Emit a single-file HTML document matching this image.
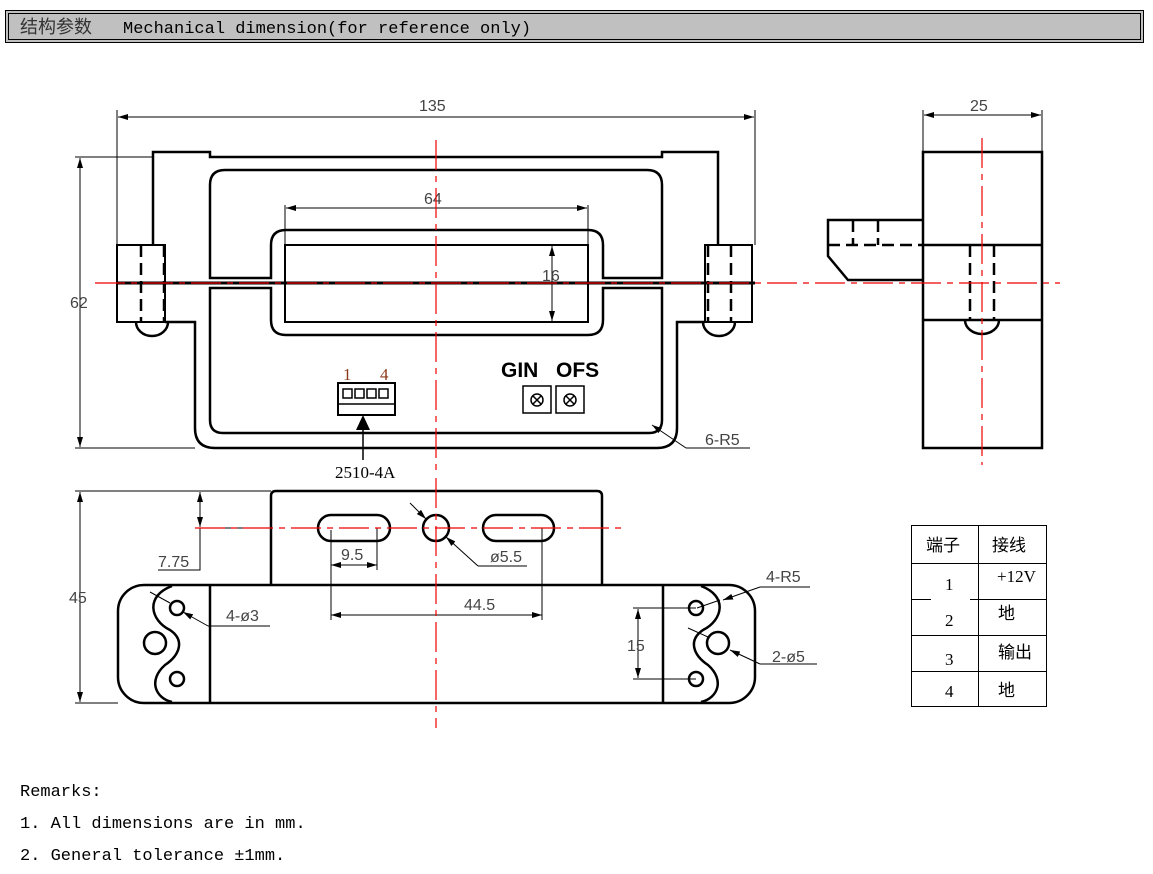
<!DOCTYPE html>
<html><head><meta charset="utf-8"><style>
html,body{margin:0;padding:0;background:#fff}
svg{display:block}
.t{font-family:"Liberation Sans",sans-serif;font-size:16px;fill:#444}
.m{font-family:"Liberation Mono","Noto Sans CJK SC",monospace;font-size:17px;fill:#000}
.s{font-family:"Liberation Serif","Noto Serif CJK SC",serif;font-size:17px;fill:#000}
</style></head><body>
<svg width="1153" height="874" viewBox="0 0 1153 874" xmlns="http://www.w3.org/2000/svg">
<defs>
<marker id="a" viewBox="0 0 10 6" refX="10" refY="3" markerWidth="10" markerHeight="6" orient="auto-start-reverse" markerUnits="userSpaceOnUse"><path d="M0,0L10,3L0,6z" fill="#000"/></marker>
</defs>
<!-- header -->
<rect x="5.5" y="10.5" width="1138" height="32" fill="#c0c0c0" stroke="#000"/>
<rect x="8.5" y="13.5" width="1132" height="26" fill="none" stroke="#000" stroke-width="1"/>
<text x="20" y="33" style="fill:#333;font-family:'Noto Sans CJK SC',sans-serif;font-size:18px">结构参数</text>
<text x="123" y="33" class="m">Mechanical dimension(for reference only)</text>

<g fill="none" stroke="#000" stroke-width="2.5">
<path d="M153,245V152H210V157H662V152H718V245"/>
<path d="M165,322H195V428Q195,448 215,448H657Q677,448 677,428V322H705"/>
<rect x="117" y="245" width="48" height="77" stroke-width="2"/>
<rect x="705" y="245" width="47" height="77" stroke-width="2"/>
<path d="M136,322A16,14 0 0 0 168,322"/>
<path d="M703,322A16,14 0 0 0 735,322"/>
<path d="M210,278V185Q210,170 225,170H647Q662,170 662,185V278H603V245Q603,230 588,230H286Q271,230 271,245V278Z"/>
<path d="M210,288V420Q210,433 223,433H649Q662,433 662,420V288H603V320Q603,335 588,335H286Q271,335 271,320V288Z"/>
<rect x="285" y="245" width="303" height="77" stroke-width="2"/>
</g>
<g stroke="#000" stroke-width="2.5" stroke-dasharray="12,6" fill="none">
<path d="M141,245V322M164,245V322M708,245V322M731,245V322"/>
</g>
<line x1="117" y1="283" x2="755" y2="283" stroke="#000" stroke-width="3"/>
<g stroke="#000" stroke-width="1" fill="none">
<path d="M117,110V245M755,110V245"/>
<line x1="118" y1="117" x2="754" y2="117" marker-start="url(#a)" marker-end="url(#a)"/>
<path d="M75,157H153M75,448H195"/>
<line x1="80" y1="158" x2="80" y2="447" marker-start="url(#a)" marker-end="url(#a)"/>
<path d="M285,205V245M588,205V245"/>
<line x1="286" y1="208" x2="587" y2="208" marker-start="url(#a)" marker-end="url(#a)"/>
<line x1="552" y1="246" x2="552" y2="321" marker-start="url(#a)" marker-end="url(#a)"/>
<line x1="686" y1="448" x2="652" y2="425" marker-end="url(#a)"/>
<path d="M686,448H750"/>
</g>
<text x="419" y="111" class="t">135</text>
<text x="70" y="308" class="t">62</text>
<text x="424" y="204" class="t">64</text>
<text x="542" y="281" class="t">16</text>
<text x="705" y="445" class="t">6-R5</text>
<rect x="338" y="383" width="57" height="32" fill="none" stroke="#000" stroke-width="2"/>
<line x1="338" y1="404" x2="395" y2="404" stroke="#000" stroke-width="1.5"/>
<g fill="none" stroke="#000" stroke-width="1.5"><rect x="343" y="389" width="9" height="9"/><rect x="355" y="389" width="9" height="9"/><rect x="367" y="389" width="9" height="9"/><rect x="379" y="389" width="9" height="9"/></g>
<text x="343" y="380" class="s" style="fill:#8b3a1a">1</text>
<text x="380" y="380" class="s" style="fill:#8b3a1a">4</text>
<line x1="363" y1="460" x2="363" y2="417" stroke="#000" stroke-width="1.5"/>
<path d="M356,430L363,415L370,430Z" fill="#000"/>
<text x="335" y="478" class="s">2510-4A</text>
<text x="501" y="377" style="font-family:'Liberation Sans',sans-serif;font-weight:bold;font-size:21px">GIN</text>
<text x="556" y="377" style="font-family:'Liberation Sans',sans-serif;font-weight:bold;font-size:21px">OFS</text>
<g fill="none" stroke="#000" stroke-width="1.5">
<rect x="523" y="386" width="28" height="27"/><rect x="556" y="386" width="28" height="27"/>
<circle cx="537" cy="400" r="6"/><path d="M533,396L541,404M541,396L533,404"/>
<circle cx="570" cy="400" r="6"/><path d="M566,396L574,404M574,396L566,404"/>
</g>

<g fill="none" stroke="#000" stroke-width="2.5">
<rect x="923" y="152" width="119" height="296"/>
<path d="M923,245H1042M923,320H1042"/>
<path d="M923,220H828V256L848,280H923"/>
<path d="M965,320A17,14 0 0 0 999,320"/>
</g>
<g stroke="#000" stroke-width="2.5" stroke-dasharray="12,6" fill="none">
<path d="M828,245H923M853,220V245M878,220V245M970,245V320M994,245V320"/>
</g>
<g stroke="#000" stroke-width="1" fill="none">
<path d="M923,110V152M1042,110V152"/>
<line x1="924" y1="115" x2="1041" y2="115" marker-start="url(#a)" marker-end="url(#a)"/>
</g>
<text x="970" y="111" class="t">25</text>

<g fill="none" stroke="#000" stroke-width="2.5">
<path d="M271,585V496Q271,491 276,491H597Q602,491 602,496V585"/>
<rect x="118" y="585" width="637" height="118" rx="26"/>
<path d="M210,585V703M663,585V703"/>
<rect x="318" y="515" width="72" height="26" rx="13"/>
<rect x="483" y="515" width="71" height="26" rx="13"/>
<circle cx="436" cy="528" r="13"/>
<path d="M172,586C145,596 150,620 170,630C185,640 180,655 165,665C148,680 155,698 172,702"/>
<path d="M701,586C728,596 723,620 703,630C688,640 693,655 708,665C725,680 718,698 701,702"/>
<circle cx="177" cy="608" r="7"/><circle cx="177" cy="679" r="7"/><circle cx="155" cy="643" r="11"/>
<circle cx="696" cy="608" r="7"/><circle cx="696" cy="679" r="7"/><circle cx="718" cy="643" r="11"/>
</g>
<g stroke="#000" stroke-width="1" fill="none">
<path d="M75,491H271M75,703H118"/>
<line x1="80" y1="492" x2="80" y2="702" marker-start="url(#a)" marker-end="url(#a)"/>
<path d="M195,528H250"/>
<line x1="200" y1="492" x2="200" y2="527" marker-start="url(#a)" marker-end="url(#a)"/>
<path d="M200,528V570H158"/>
<path d="M331,530V620M377,528V570"/>
<line x1="331" y1="565" x2="377" y2="565" marker-start="url(#a)" marker-end="url(#a)"/>
<path d="M542,528V620"/>
<line x1="331" y1="615" x2="542" y2="615" marker-start="url(#a)" marker-end="url(#a)"/>
<line x1="410" y1="503" x2="426" y2="519" marker-end="url(#a)"/>
<line x1="478" y1="566" x2="446" y2="537" marker-end="url(#a)"/>
<path d="M478,566H527"/>
<line x1="150" y1="592" x2="170" y2="603" />
<line x1="208" y1="626" x2="183" y2="612" marker-end="url(#a)"/>
<path d="M208,626H270"/>
<line x1="760" y1="587" x2="723" y2="600" marker-end="url(#a)"/>
<path d="M697,608L720,600M760,587H810"/>
<line x1="688" y1="628" x2="708" y2="637"/>
<line x1="760" y1="664" x2="730" y2="650" marker-end="url(#a)"/>
<path d="M760,664H817"/>
<path d="M633,608H696M633,679H696"/>
<line x1="638" y1="609" x2="638" y2="678" marker-start="url(#a)" marker-end="url(#a)"/>
</g>
<text x="69" y="603" class="t">45</text>
<text x="158" y="567" class="t">7.75</text>
<text x="341" y="560" class="t">9.5</text>
<text x="464" y="610" class="t">44.5</text>
<text x="490" y="562" class="t">ø5.5</text>
<text x="226" y="621" class="t">4-ø3</text>
<text x="766" y="582" class="t">4-R5</text>
<text x="772" y="662" class="t">2-ø5</text>
<text x="627" y="651" class="t">15</text>

<g stroke="#e00" stroke-width="1.2" fill="none" stroke-dasharray="30,6,6,6">
<path d="M436,140V470M95,283H1060M982,138V465M195,528H622M436,478V728"/>
</g>

<g stroke="#000" stroke-width="1" fill="none">
<rect x="911.5" y="525.5" width="135" height="181"/>
<path d="M978.5,525.5V706.5M911.5,563.5H1046.5M911.5,599.5H931M970,599.5H1046.5M911.5,635.5H1046.5M911.5,671.5H1046.5"/>
</g>
<g style="font-family:'Liberation Serif','Noto Serif CJK SC',serif;font-size:17px">
<text x="926" y="551" style="font-family:'Noto Sans CJK SC',sans-serif">端子</text>
<text x="992" y="551" style="font-family:'Noto Sans CJK SC',sans-serif">接线</text>
<text x="945" y="590">1</text><text x="997" y="582">+12V</text>
<text x="945" y="626">2</text><text x="998" y="619" style="font-family:'Noto Sans CJK SC',sans-serif">地</text>
<text x="945" y="665">3</text><text x="998" y="658" style="font-family:'Noto Sans CJK SC',sans-serif">输出</text>
<text x="945" y="697">4</text><text x="998" y="696" style="font-family:'Noto Sans CJK SC',sans-serif">地</text>
</g>

<text x="20" y="796" class="m">Remarks:</text>
<text x="20" y="828" class="m">1. All dimensions are in mm.</text>
<text x="20" y="860" class="m">2. General tolerance ±1mm.</text>
</svg>
</body></html>
